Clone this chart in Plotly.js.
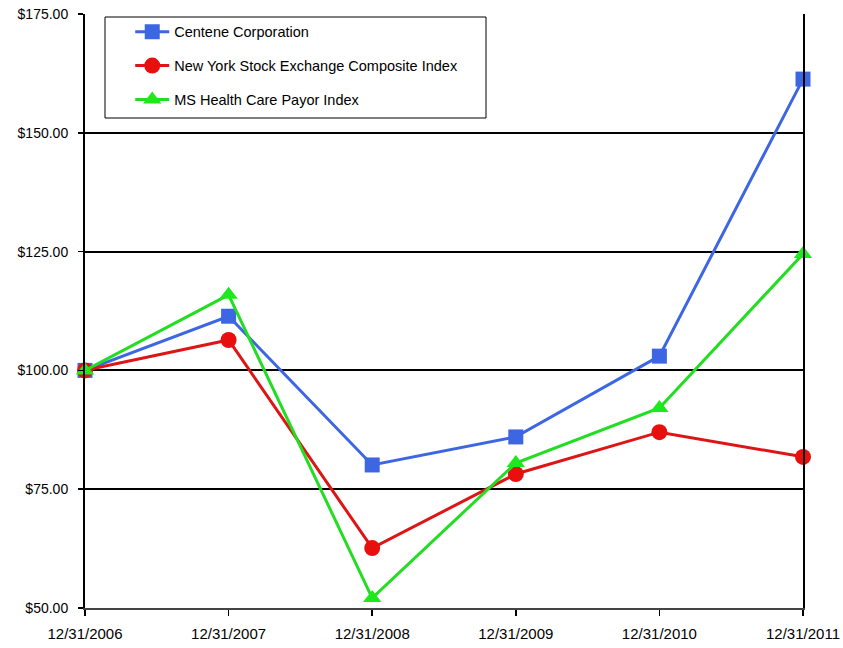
<!DOCTYPE html>
<html>
<head>
<meta charset="utf-8">
<script src="https://cdn.plot.ly/plotly-3.0.1.min.js"></script>
<style>html,body{margin:0;padding:0;background:#fff;}#chart{width:843px;height:648px;}</style>
</head>
<body>
<div id="chart"></div>
<script>
const dates = ["12/31/2006", "12/31/2007", "12/31/2008", "12/31/2009", "12/31/2010", "12/31/2011"];
const centene = [100, 111.4, 80.1, 86.0, 103.0, 161.3];
const nyse = [100, 106.4, 62.6, 78.2, 87.0, 81.8];
const msHealth = [100, 115.9, 52.1, 80.5, 92.1, 124.5];
const seriesNames = ["Centene Corporation", "New York Stock Exchange Composite Index", "MS Health Care Payor Index"];
const yTicks = [50, 75, 100, 125, 150, 175];
const yTickText = yTicks.map(v => "$" + v.toFixed(2));

const sans = "'Liberation Sans', Arial, sans-serif";

const traces = [
  {x: dates, y: centene, name: seriesNames[0], legendgroup: "a", type: "scatter", mode: "lines+markers", cliponaxis: false,
   line: {color: "#3d66e3", width: 3}, marker: {symbol: "square", size: 15, color: "#3d66e3"}},
  {x: dates, y: nyse, name: seriesNames[1], legendgroup: "b", type: "scatter", mode: "lines+markers", cliponaxis: false,
   line: {color: "#dd1515", width: 3}, marker: {symbol: "circle", size: 16, color: "#e80f0f"}},
  {x: dates, y: msHealth, name: seriesNames[2], legendgroup: "c", type: "scatter", mode: "lines+markers", cliponaxis: false,
   line: {color: "#22dd22", width: 3}, marker: {symbol: "triangle-up", size: 16, color: "#1ee81e"}}
];

const layout = {
  width: 843, height: 648,
  margin: {l: 85, r: 40, t: 14, b: 40},
  paper_bgcolor: "#fff", plot_bgcolor: "#fff",
  showlegend: true,
  legend: {
    x: 0.063, y: 0.997, xanchor: "left", yanchor: "top",
    bgcolor: "rgba(0,0,0,0)", borderwidth: 0,
    font: {family: sans, size: 14.5, color: "#000"},
    tracegroupgap: 12, itemsizing: "trace", itemwidth: 34, traceorder: "grouped"
  },
  shapes: [
    {type: "rect", xref: "paper", yref: "paper", x0: 20/718, x1: 401/718, y0: (608-118)/594, y1: (608-17)/594,
     line: {color: "#000", width: 1}, fillcolor: "rgba(0,0,0,0)", layer: "above"}
  ],
  xaxis: {
    type: "category", range: [0, 5], showgrid: false, zeroline: false,
    showline: true, linecolor: "#444", linewidth: 1.5,
    ticks: "outside", ticklen: 6, tickcolor: "#000", tickwidth: 1.5,
    ticklabelstandoff: 5,
    tickfont: {family: sans, size: 15, color: "#000"}
  },
  yaxis: {
    range: [50, 175], tickvals: yTicks, ticktext: yTickText,
    showgrid: true, gridcolor: "#000", gridwidth: 2, zeroline: false,
    showline: true, linecolor: "#000", linewidth: 2, mirror: true,
    ticks: "outside", ticklen: 5, tickcolor: "#000", tickwidth: 1.5,
    ticklabelstandoff: 7,
    tickfont: {family: sans, size: 14, color: "#000"}
  }
};

Plotly.newPlot("chart", traces, layout, {displayModeBar: false, staticPlot: true});
</script>
</body>
</html>
